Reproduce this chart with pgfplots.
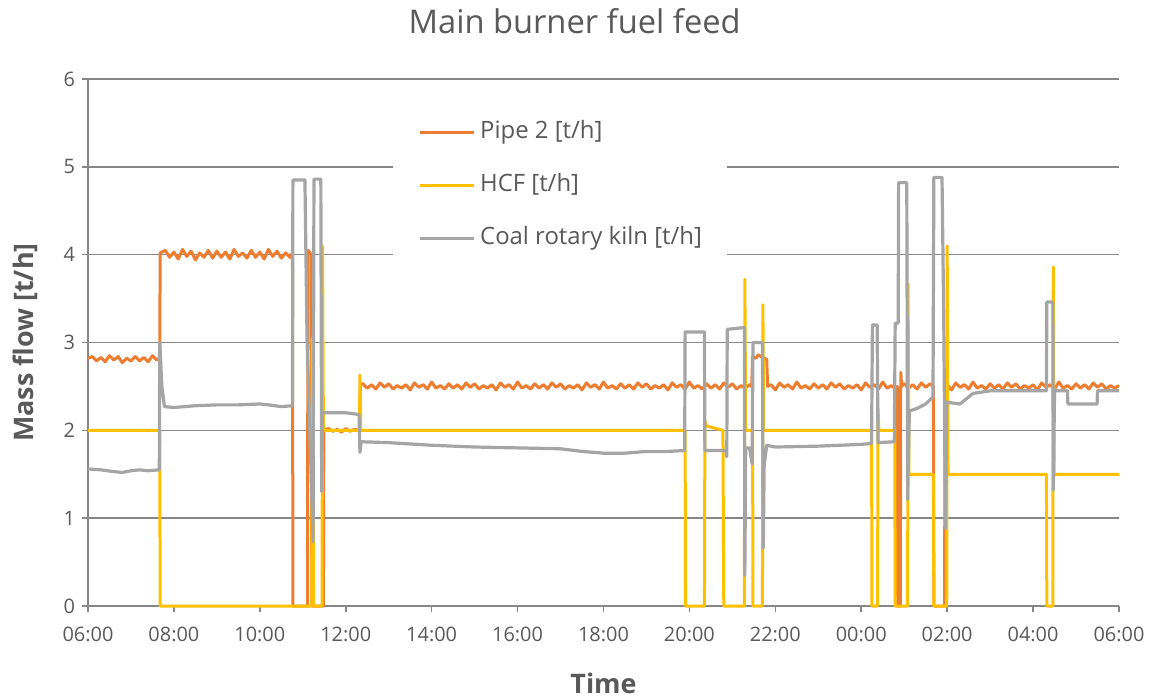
\documentclass[border=0pt]{standalone}
\usepackage{fontspec}
\setmainfont{Open Sans}
\usepackage{pgfplots}
\pgfplotsset{compat=1.18}
\definecolor{cOrange}{HTML}{ED7D31}
\definecolor{cYellow}{HTML}{FFC000}
\definecolor{cGray}{HTML}{A5A5A5}
\definecolor{gridgray}{HTML}{878787}
\definecolor{txtgray}{HTML}{595959}
\begin{document}
\begin{tikzpicture}
\path[use as bounding box] (-44bp,-46bp) rectangle (536.5bp,303bp);
\begin{axis}[
  width=515.5bp, height=263.5bp, scale only axis,
  xmin=6, xmax=30, ymin=0, ymax=6,
  xtick={6,8,...,30},
  xticklabels={06:00,08:00,10:00,12:00,14:00,16:00,18:00,20:00,22:00,00:00,02:00,04:00,06:00},
  ytick={0,1,...,6},
  ymajorgrids, grid style={line width=0.8bp, color=gridgray},
  axis x line*=bottom, axis y line*=left,
  axis line style={line width=0.8bp, color=gridgray},
  tick style={line width=0.8bp, color=gridgray},
  tick align=outside, major tick length=3bp,
  ticklabel style={font=\fontsize{10}{12}\selectfont, text=txtgray},
  xticklabel style={yshift=-4bp},
  /pgf/number format/assume math mode=true,
  title={Main burner fuel feed},
  title style={at={(axis description cs:0.472,1.088)}, anchor=center, font=\fontsize{16.4}{19}\selectfont, text=txtgray},
  xlabel={Time}, ylabel={Mass flow [t/h]},
  label style={font=\bfseries\fontsize{13.5}{16}\selectfont, text=txtgray},
  xlabel style={at={(axis description cs:0.5,-0.146)}, anchor=center},
  ylabel style={at={(axis description cs:-0.061,0.5)}, anchor=center},
  clip=false,
  legend image code/.code={\draw[#1, line width=1.4bp] (0bp,0bp) -- (27bp,0bp);},
  legend style={at={(axis description cs:0.2958,0.9507)}, anchor=north west,
    fill=white, draw=none, font=\fontsize{12}{14}\selectfont, text=txtgray,
    inner xsep=12.5bp, inner ysep=7.5bp, row sep=14.5bp, column sep=2.5bp,
    nodes={inner sep=0pt, text height=9bp, text depth=3bp}},
  legend cell align=left,
]
% Pipe 2
\addplot[cOrange, line width=1.5bp, line join=round] coordinates {
(6.0,2.82)(6.1,2.84)(6.2,2.79)(6.3,2.83)(6.4,2.78)(6.5,2.85)(6.6,2.80)(6.7,2.84)(6.8,2.77)(6.9,2.82)(7.0,2.79)(7.1,2.84)(7.2,2.79)(7.3,2.83)(7.4,2.78)(7.5,2.85)(7.6,2.80)(7.67,2.83)
(7.68,4.02)(7.8,4.05)(7.9,3.97)(8.0,4.03)(8.1,3.95)(8.2,4.06)(8.3,3.98)(8.4,4.04)(8.5,3.94)(8.6,4.02)(8.7,3.97)
(8.8,4.05)(8.9,3.96)(9.0,4.04)(9.1,3.97)(9.2,4.03)(9.3,3.95)(9.4,4.06)(9.5,3.98)(9.6,4.02)(9.7,3.96)
(9.8,4.05)(9.9,3.97)(10.0,4.03)(10.1,3.95)(10.2,4.06)(10.3,3.98)(10.4,4.04)(10.5,3.96)(10.6,4.02)(10.7,3.97)(10.76,4.02)
(10.77,0)(11.11,0)(11.12,4.05)(11.2,4.0)(11.21,0)(11.48,0)(11.49,2.0)
(11.6,2.02)(11.7,1.99)(11.8,2.01)(11.9,1.98)(12.0,2.02)(12.1,1.99)(12.2,2.01)(12.32,2.0)(12.34,2.52)
(12.4,2.53)(12.5,2.48)(12.6,2.52)(12.7,2.47)(12.8,2.54)(12.9,2.49)(13.0,2.53)(13.1,2.47)(13.2,2.51)(13.3,2.48)
(13.4,2.52)(13.5,2.46)(13.6,2.54)(13.7,2.49)(13.8,2.52)(13.9,2.47)(14.0,2.55)(14.1,2.48)(14.2,2.51)(14.3,2.47)
(14.4,2.53)(14.5,2.48)(14.6,2.52)(14.7,2.47)(14.8,2.54)(14.9,2.49)(15.0,2.53)(15.1,2.47)(15.2,2.51)(15.3,2.48)
(15.4,2.52)(15.5,2.46)(15.6,2.54)(15.7,2.49)(15.8,2.52)(15.9,2.47)(16.0,2.55)(16.1,2.48)(16.2,2.51)(16.3,2.47)
(16.4,2.53)(16.5,2.48)(16.6,2.52)(16.7,2.47)(16.8,2.54)(16.9,2.49)(17.0,2.53)(17.1,2.47)(17.2,2.51)(17.3,2.48)
(17.4,2.52)(17.5,2.46)(17.6,2.54)(17.7,2.49)(17.8,2.52)(17.9,2.47)(18.0,2.55)(18.1,2.48)(18.2,2.51)(18.3,2.47)
(18.4,2.53)(18.5,2.48)(18.6,2.52)(18.7,2.47)(18.8,2.54)(18.9,2.49)(19.0,2.53)(19.1,2.47)(19.2,2.51)(19.3,2.48)
(19.4,2.52)(19.5,2.46)(19.6,2.54)(19.7,2.49)(19.8,2.52)(19.9,2.47)(20.0,2.55)(20.1,2.48)(20.2,2.51)(20.3,2.47)
(20.4,2.53)(20.5,2.48)(20.6,2.52)(20.7,2.47)(20.8,2.54)(20.9,2.49)(21.0,2.53)(21.1,2.47)(21.2,2.51)(21.3,2.48)
(21.4,2.52)(21.45,2.5)(21.47,2.84)(21.55,2.82)(21.6,2.86)(21.7,2.83)(21.8,2.81)(21.82,2.5)
(21.9,2.52)(22.0,2.46)(22.1,2.54)(22.2,2.49)(22.3,2.52)(22.4,2.47)(22.5,2.55)(22.6,2.48)(22.7,2.51)(22.8,2.47)
(22.9,2.53)(23.0,2.48)(23.1,2.52)(23.2,2.47)(23.3,2.54)(23.4,2.49)(23.5,2.53)(23.6,2.47)(23.7,2.51)(23.8,2.48)
(23.9,2.52)(24.0,2.46)(24.1,2.54)(24.2,2.49)(24.3,2.52)(24.4,2.47)(24.5,2.55)(24.6,2.48)(24.7,2.51)(24.8,2.47)
(24.84,2.5)(24.85,0)(24.91,0)(24.92,2.66)(24.94,2.5)
(25.0,2.53)(25.1,2.48)(25.2,2.52)(25.3,2.47)(25.4,2.54)(25.5,2.49)(25.6,2.53)(25.68,2.5)(25.69,0)(25.94,0)(25.95,2.5)
(26.0,2.52)(26.1,2.46)(26.2,2.54)(26.3,2.49)(26.4,2.52)(26.5,2.47)(26.6,2.55)(26.7,2.48)(26.8,2.51)(26.9,2.47)
(27.0,2.53)(27.1,2.48)(27.2,2.52)(27.3,2.47)(27.4,2.54)(27.5,2.49)(27.6,2.53)(27.7,2.47)(27.8,2.51)(27.9,2.48)
(28.0,2.52)(28.1,2.46)(28.2,2.54)(28.3,2.49)(28.4,2.52)(28.5,2.47)(28.6,2.55)(28.7,2.48)(28.8,2.51)(28.9,2.47)
(29.0,2.53)(29.1,2.48)(29.2,2.52)(29.3,2.47)(29.4,2.54)(29.5,2.49)(29.6,2.53)(29.7,2.47)(29.8,2.51)(29.9,2.48)(30.0,2.51)
};
\addlegendentry{Pipe 2 [t/h]}
% HCF
\addplot[cYellow, line width=1.5bp, line join=round] coordinates {
(6.0,2.0)(7.67,2.0)(7.68,0)(11.21,0)(11.22,3.05)(11.24,3.0)(11.25,0)(11.45,0)(11.46,4.1)(11.48,2.0)
(12.32,2.0)(12.33,2.63)(12.35,2.0)(19.90,2.0)(19.91,0)(20.35,0)(20.36,2.1)(20.40,2.05)(20.78,2.0)(20.80,0)
(21.28,0)(21.29,3.72)(21.31,2.0)(21.47,2.0)(21.48,0)(21.70,0)(21.71,3.43)(21.73,2.0)
(24.24,2.0)(24.25,0)(24.38,0)(24.39,2.25)(24.41,2.0)(24.78,2.0)(24.79,0)(25.08,0)(25.09,3.67)(25.11,1.5)
(25.68,1.5)(25.69,0)(25.99,0)(26.00,4.1)(26.02,1.5)(28.31,1.5)(28.32,0)(28.46,0)(28.47,3.86)(28.49,1.5)(30.0,1.5)
};
\addlegendentry{HCF [t/h]}
% Coal rotary kiln
\addplot[cGray, line width=1.6bp, line join=round] coordinates {
(6.0,1.56)(6.3,1.55)(6.6,1.53)(6.8,1.52)(7.0,1.54)(7.2,1.55)(7.4,1.54)(7.66,1.55)
(7.67,3.0)(7.72,2.5)(7.78,2.27)(8.0,2.26)(8.5,2.28)(9.0,2.29)(9.5,2.29)(10.0,2.30)(10.2,2.29)(10.5,2.27)(10.76,2.28)
(10.77,4.85)(11.05,4.85)(11.10,3.0)(11.14,2.4)(11.24,0.73)(11.26,4.86)(11.42,4.86)(11.44,1.3)(11.46,2.2)
(12.0,2.2)(12.31,2.18)(12.33,1.75)(12.36,1.87)(13.0,1.86)(14.0,1.83)(15.0,1.81)(16.0,1.80)(17.0,1.79)
(17.5,1.76)(18.0,1.74)(18.5,1.74)(19.0,1.76)(19.5,1.76)(19.89,1.77)
(19.90,3.12)(20.35,3.12)(20.36,1.77)(20.85,1.77)(20.87,1.70)(20.88,3.15)(21.28,3.17)(21.29,0.35)
(21.31,1.8)(21.40,1.8)(21.46,1.62)(21.48,3.0)(21.70,3.0)(21.72,0.66)(21.74,1.6)(21.80,1.83)
(22.0,1.81)(23.0,1.82)(24.0,1.84)(24.24,1.85)(24.26,3.2)(24.37,3.2)(24.39,1.86)(24.77,1.87)
(24.79,3.22)(24.86,3.22)(24.87,4.82)(25.06,4.82)(25.08,1.21)(25.12,2.22)(25.3,2.25)(25.5,2.30)(25.67,2.38)
(25.69,4.88)(25.88,4.88)(25.92,3.3)(25.96,0.88)(25.99,2.32)(26.3,2.3)(26.6,2.42)(27.0,2.45)(28.0,2.45)
(28.31,2.45)(28.32,3.46)(28.46,3.46)(28.47,1.32)(28.50,2.45)(28.8,2.45)(28.81,2.3)(29.49,2.3)(29.50,2.45)(30.0,2.45)
};
\addlegendentry{Coal rotary kiln [t/h]}
\end{axis}
\end{tikzpicture}
\end{document}
